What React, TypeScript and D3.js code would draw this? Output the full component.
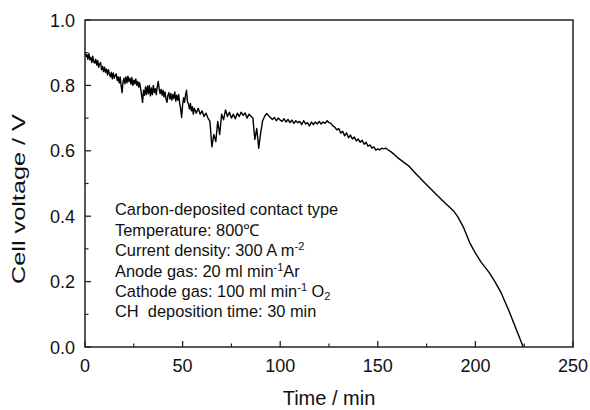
import React from "react";
import * as d3 from "d3";

const timeMin: number[] = [
  0, 0.5, 1, 1.5, 2, 2.5, 3, 3.5, 4, 4.5, 5, 5.5, 6, 6.5, 7, 7.5, 8, 8.5, 9, 9.5,
  10, 10.5, 11, 11.5, 12, 12.5, 13, 13.5, 14, 14.5, 15, 15.5, 16, 16.5, 17, 17.5, 18, 18.5, 19, 19.5,
  20, 20.5, 21, 21.5, 22, 22.5, 23, 23.5, 24, 24.5, 25, 25.5, 26, 26.5, 27, 27.5, 28, 28.5, 29, 29.5,
  30, 30.5, 31, 31.5, 32, 32.5, 33, 33.5, 34, 34.5, 35, 35.5, 36, 36.5, 37, 37.5, 38, 38.5, 39, 39.5,
  40, 40.5, 41, 41.5, 42, 42.5, 43, 43.5, 44, 44.5, 45, 45.5, 46, 46.5, 47, 47.5, 48, 48.5, 49, 49.5,
  50, 50.5, 51, 51.5, 52, 52.5, 53, 53.5, 54, 54.5, 55, 55.5, 56,
  57, 58, 59,
  60, 61, 62, 63, 64, 65, 66, 67, 68, 69, 70, 71, 72, 73, 74, 75, 76, 77, 78, 79,
  80, 81, 82, 83, 84, 85, 86, 87, 88, 89, 90, 91, 92, 93, 94, 95, 96, 97, 98, 99,
  100, 101, 102, 103, 104, 105, 106, 107, 108, 109, 110, 111, 112, 113, 114, 115, 116, 117, 118, 119,
  120, 121, 122, 123, 124, 125, 126, 127, 128, 129, 130, 131, 132, 133, 134, 135, 136, 137, 138, 139,
  140, 141, 142, 143, 144, 145, 146, 147, 148, 149, 150, 151, 152, 153, 154, 155,
  157, 160, 163, 166, 170, 175, 180, 185, 189, 191, 194, 197, 200, 203, 207, 210, 213, 217, 220, 224.5,
];

const cellVoltage: number[] = [
  0.902, 0.888, 0.894, 0.88, 0.897, 0.878, 0.886, 0.87, 0.889, 0.872,
  0.868, 0.88, 0.862, 0.876, 0.855, 0.866, 0.87, 0.848, 0.858, 0.842,
  0.856, 0.84, 0.85, 0.832, 0.848, 0.835, 0.826, 0.84, 0.82, 0.838,
  0.822, 0.83, 0.835, 0.815, 0.826, 0.808, 0.826, 0.8, 0.778, 0.812,
  0.822, 0.805, 0.826, 0.808, 0.828, 0.812, 0.822, 0.804, 0.824, 0.8,
  0.816, 0.805, 0.82, 0.8, 0.812, 0.795, 0.808, 0.79, 0.77, 0.748,
  0.785, 0.77, 0.795, 0.772, 0.798, 0.775, 0.8, 0.768, 0.792, 0.772,
  0.8, 0.778, 0.79, 0.772, 0.795, 0.812, 0.79, 0.775, 0.788, 0.77,
  0.785, 0.765, 0.78, 0.758, 0.748, 0.77, 0.778, 0.758, 0.775, 0.755,
  0.772, 0.76, 0.78, 0.752, 0.77, 0.755, 0.772, 0.745, 0.728, 0.702,
  0.74, 0.762, 0.748, 0.77, 0.785, 0.75, 0.742, 0.728, 0.745, 0.722,
  0.735, 0.712, 0.73,
  0.715, 0.73, 0.712,
  0.722, 0.705, 0.715, 0.7, 0.69, 0.612, 0.65, 0.628, 0.69, 0.65,
  0.712, 0.695, 0.725, 0.705, 0.718, 0.7, 0.712, 0.698, 0.715, 0.705,
  0.718, 0.708, 0.716, 0.7, 0.712, 0.706, 0.7, 0.635, 0.668, 0.608,
  0.655, 0.692, 0.705, 0.714, 0.708, 0.702, 0.696, 0.702, 0.692, 0.7,
  0.694, 0.69, 0.698, 0.688, 0.696, 0.686, 0.694, 0.684, 0.692, 0.686,
  0.69, 0.68, 0.692, 0.682, 0.686, 0.676, 0.688, 0.68, 0.688, 0.682,
  0.69, 0.682, 0.688, 0.684, 0.692, 0.686, 0.684, 0.676, 0.672, 0.664,
  0.668, 0.654, 0.66, 0.646, 0.655, 0.64, 0.648, 0.636, 0.642, 0.63,
  0.636, 0.626, 0.632, 0.62, 0.626, 0.614, 0.618, 0.608, 0.612, 0.602,
  0.606, 0.603, 0.608, 0.606, 0.608, 0.604,
  0.596, 0.58, 0.566, 0.553, 0.527, 0.496, 0.466, 0.437, 0.415, 0.398,
  0.365, 0.32, 0.287, 0.259, 0.228, 0.2, 0.168, 0.113, 0.068, 0.0,
];

const xMajorTicks = [0, 50, 100, 150, 200, 250];
const xMinorTicks = [25, 75, 125, 175, 225];
const yMajorTicks = [0, 0.2, 0.4, 0.6, 0.8, 1.0];
const yMinorTicks = [0.1, 0.3, 0.5, 0.7, 0.9];

const FONT = "'Liberation Sans', Arial, Helvetica, sans-serif";

export default function App() {
  const W = 590;
  const H = 410;
  const left = 85, right = 573, top = 20, bottom = 347;
  const x = d3.scaleLinear().domain([0, 250]).range([left, right]);
  const y = d3.scaleLinear().domain([0, 1]).range([bottom, top]);

  const pts: [number, number][] = timeMin.map((t, i) => [t, cellVoltage[i]]);
  const line = d3
    .line<[number, number]>()
    .x((d) => x(d[0]))
    .y((d) => y(d[1]));

  const axisColor = "#222";
  const textColor = "#111";
  const lineX = 115;
  const lineBase = [215, 235.5, 256, 276.5, 297, 317];

  return (
    <svg
      width={W}
      height={H}
      viewBox={`0 0 ${W} ${H}`}
      style={{ position: "absolute", left: 0, top: 0, background: "#fff" }}
      fontFamily={FONT}
    >
      <rect x={0} y={0} width={W} height={H} fill="#fff" />
      {/* data line */}
      <path d={line(pts) || ""} fill="none" stroke="#000" strokeWidth={1.4} strokeLinejoin="round" />

      {/* frame */}
      <rect
        x={left}
        y={top}
        width={right - left}
        height={bottom - top}
        fill="none"
        stroke={axisColor}
        strokeWidth={1.5}
      />

      {/* x ticks */}
      {xMajorTicks.map((t) => (
        <g key={"xm" + t}>
          <line x1={x(t)} x2={x(t)} y1={bottom} y2={bottom - 6} stroke={axisColor} strokeWidth={1.3} />
          <text x={x(t)} y={372} textAnchor="middle" fontSize={18} fill={textColor}>
            {t}
          </text>
        </g>
      ))}
      {xMinorTicks.map((t) => (
        <line key={"xn" + t} x1={x(t)} x2={x(t)} y1={bottom} y2={bottom - 3.5} stroke={axisColor} strokeWidth={1.2} />
      ))}

      {/* y ticks */}
      {yMajorTicks.map((v) => (
        <g key={"ym" + v}>
          <line x1={left} x2={left + 6} y1={y(v)} y2={y(v)} stroke={axisColor} strokeWidth={1.3} />
          <text x={75} y={y(v) + 6.5} textAnchor="end" fontSize={18} fill={textColor}>
            {v.toFixed(1)}
          </text>
        </g>
      ))}
      {yMinorTicks.map((v) => (
        <line key={"yn" + v} x1={left} x2={left + 3.5} y1={y(v)} y2={y(v)} stroke={axisColor} strokeWidth={1.2} />
      ))}

      {/* axis titles */}
      <text x={(left + right) / 2} y={405} textAnchor="middle" fontSize={20} fill={textColor}>
        Time / min
      </text>
      <text
        transform={`translate(25, 199) rotate(-90)`}
        textAnchor="middle"
        fontSize={18.5}
        fill={textColor}
        textLength={170}
        lengthAdjust="spacingAndGlyphs"
      >
        Cell voltage / V
      </text>

      {/* annotation */}
      <g fontSize={16.4} fill={textColor}>
        <text x={lineX} y={lineBase[0]}>Carbon-deposited contact type</text>
        <text x={lineX} y={lineBase[1]}>Temperature: 800℃</text>
        <text x={lineX} y={lineBase[2]}>
          Current density: 300 A m
          <tspan fontSize={11} dy={-6}>-2</tspan>
        </text>
        <text x={lineX} y={lineBase[3]}>
          Anode gas: 20 ml min
          <tspan fontSize={11} dy={-6}>-1</tspan>
          <tspan dy={6}>Ar</tspan>
        </text>
        <text x={lineX} y={lineBase[4]}>
          Cathode gas: 100 ml min
          <tspan fontSize={11} dy={-6}>-1</tspan>
          <tspan dy={6}> O</tspan>
          <tspan fontSize={11} dy={3}>2</tspan>
        </text>
        <text x={lineX} y={lineBase[5]} style={{ whiteSpace: "pre" }}>
          {"CH  deposition time: 30 min"}
        </text>
      </g>
    </svg>
  );
}
